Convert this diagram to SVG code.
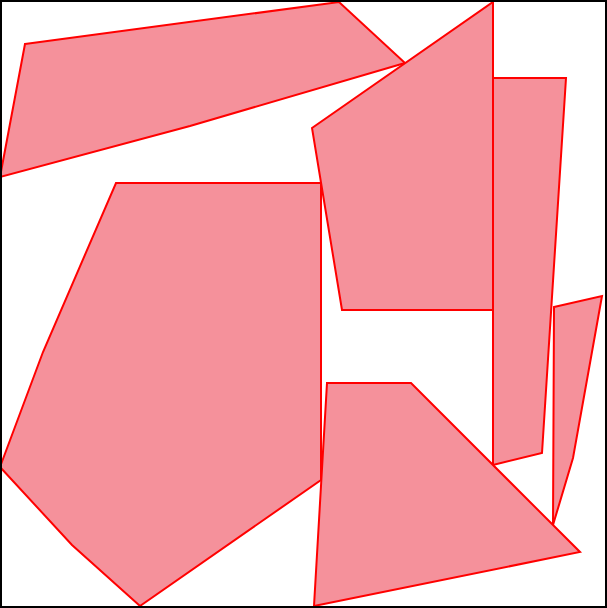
<svg xmlns="http://www.w3.org/2000/svg" width="607" height="608" viewBox="0 0 607 608">
<style>
.p{fill:#f5919b;stroke:#ff0000;stroke-width:2;stroke-linejoin:miter}
</style>
<rect x="0" y="0" width="607" height="608" fill="#ffffff"/>
<g id="shapes">
<polygon id="s1" class="p" points="25,44 339,2 405,63 190,126 0,177"/>
<polygon id="s2" class="p" points="312,128 493,2 493,310 342,310"/>
<polygon id="s3" class="p" points="493,78 566,78 542,453 493,465"/>
<polygon id="s4" class="p" points="554,307 602,296 573,458 553,525"/>
<polygon id="s5" class="p" points="327,383 411,383 580,552 314,606"/>
<polygon id="s6" class="p" points="116,183 321,183 321,480 140,606 72,545 0,467 43,352"/>
</g>
<rect x="1" y="1" width="605" height="606" fill="none" stroke="#000000" stroke-width="2"/>
</svg>
